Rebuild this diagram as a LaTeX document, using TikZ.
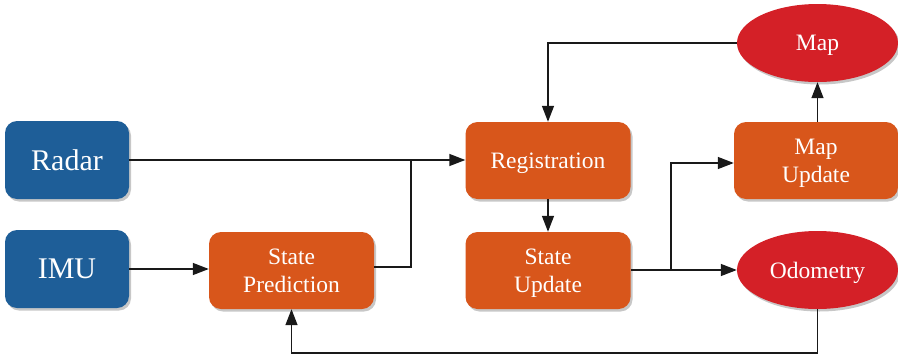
\documentclass[tikz,border=0pt]{standalone}
\usepackage{fontspec}
\setmainfont{Liberation Serif}
\usetikzlibrary{arrows.meta,shapes.geometric,shadows}
\definecolor{bbox}{RGB}{30,94,152}
\definecolor{obox}{RGB}{216,86,27}
\definecolor{rell}{RGB}{212,32,39}
\tikzset{
  shad/.style={drop shadow={shadow xshift=2pt,shadow yshift=-2.5pt,opacity=0.22,fill=black}},
  bluebox/.style={shad,fill=bbox,rounded corners=12pt,minimum width=124pt,minimum height=78pt,text=white,font=\fontsize{30}{34}\selectfont,inner sep=0pt,text depth=0pt},
  orbox/.style={shad,fill=obox,rounded corners=12pt,minimum width=165pt,minimum height=77pt,text=white,font=\fontsize{23.5}{28}\selectfont,align=center,inner sep=0pt,text depth=0pt},
  redell/.style={shad,ellipse,fill=rell,minimum width=161pt,minimum height=78pt,text=white,font=\fontsize{23.5}{28}\selectfont,inner sep=0pt,text depth=0pt},
  conn/.style={line width=1.4pt,draw=black!90,-{Triangle[length=16pt,width=12pt]}},
  plain/.style={line width=1.4pt,draw=black!90}
}
\begin{document}
\begin{tikzpicture}[x=1pt,y=-1pt]
\useasboundingbox (0,0) rectangle (898,354);
\node[bluebox] (radar) at (67,160) {Radar};
\node[bluebox] (imu) at (67,269) {IMU};
\node[orbox] (pred) at (291.5,270.5) {State\\Prediction};
\node[orbox] (reg) at (548,160.5) {Registration};
\node[orbox] (upd) at (548,270.5) {State\\Update};
\node[orbox,minimum width=164pt] (mapupd) at (816,160.5) {Map\\Update};
\node[redell] (map) at (817.5,43) {Map};
\node[redell] (odo) at (817.5,270) {Odometry};
\coordinate (j1) at (411,160);
\coordinate (j2) at (671,270);
\coordinate (b1) at (817.5,353);
\coordinate (b2) at (291.5,353);
\draw[conn] (radar.east |- 0,160) -- (reg.west |- 0,160);
\draw[plain] (pred.east |- 0,267) -| (j1);
\draw[conn] (imu.east |- 0,269) -- (pred.west |- 0,269);
\draw[conn] (map.west) -| (reg.north);
\draw[conn] (reg.south) -- (upd.north);
\draw[conn] (upd.east |- 0,270) -- (odo.west |- 0,270);
\draw[conn] (j2) |- (mapupd.west |- 0,163);
\draw[conn] (mapupd.north -| 817.5,0) -- (map.south);
\draw[conn] (odo.south) -- (b1) -- (b2) -- (pred.south);
\end{tikzpicture}
\end{document}
